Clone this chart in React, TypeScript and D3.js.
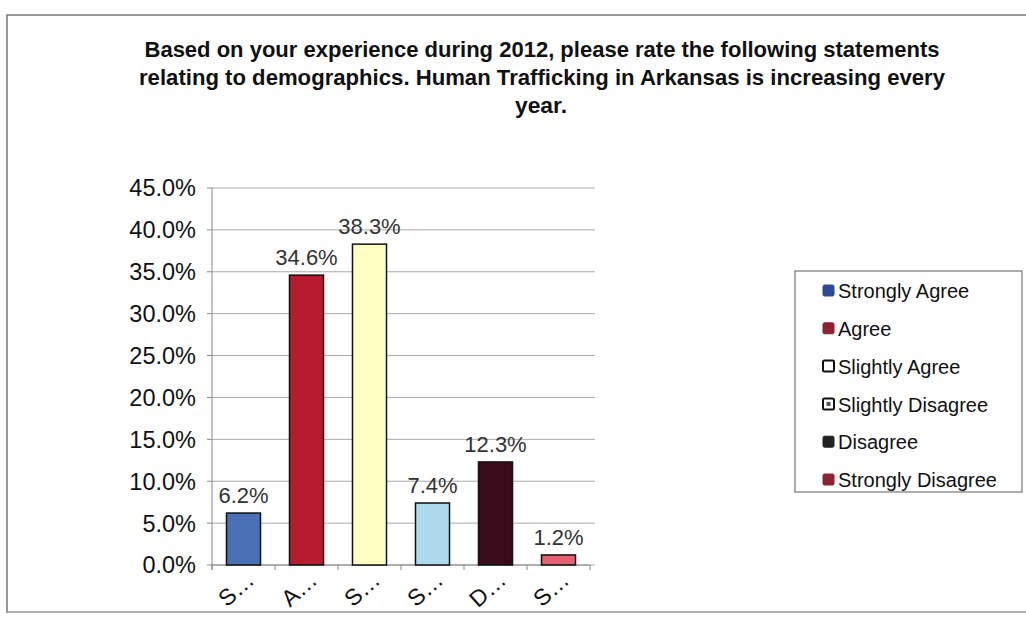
import React from "react";
import * as d3 from "d3";

const titleLines = [
  "Based on your experience during 2012, please rate the following statements",
  "relating to demographics.  Human Trafficking in Arkansas is increasing every",
  "year.",
];
const categories = ["Strongly Agree", "Agree", "Slightly Agree", "Slightly Disagree", "Disagree", "Strongly Disagree"];
const axisLabels = ["S…", "A…", "S…", "S…", "D…", "S…"];
const values = [6.2, 34.6, 38.3, 7.4, 12.3, 1.2];
const barColors = ["#4a70b6", "#b81a30", "#ffffc4", "#acdaec", "#3c0b1b", "#e3606f"];
const legendColors = ["#2f4a95", "#8c2232", "#ffffff", "#ffffff", "#222222", "#8c2232"];
const yTicks = [0, 5, 10, 15, 20, 25, 30, 35, 40, 45];

const W = 1026;
const H = 620;
const plot = { left: 212, right: 590, top: 188, bottom: 565 };

export default function App() {
  const x = d3.scaleBand<string>().domain(categories).range([plot.left, plot.right]).paddingInner(0.46).paddingOuter(0.23);
  const y = d3.scaleLinear().domain([0, 45]).range([plot.bottom, plot.top]);
  const boundaries = d3.range(categories.length + 1).map((i) => plot.left + i * ((plot.right - plot.left) / categories.length));
  const font = "'Liberation Sans', Arial, sans-serif";
  return (
    <svg width={W} height={H} style={{ position: "absolute", left: 0, top: 0, background: "#fff" }} fontFamily={font}>
      <rect x={0} y={0} width={W} height={H} fill="#fff" />
      {/* outer frame */}
      <path d={`M7,613 L7,15 L1026,15`} fill="none" stroke="#777" strokeWidth={1.5} />
      <line x1={7} y1={612} x2={1026} y2={612} stroke="#999" strokeWidth={1.5} />
      {/* title */}
      <g fontFamily="'Liberation Sans Narrow', 'Liberation Sans', Arial, sans-serif" fontWeight="bold" fontSize={22.5} fill="#111" textAnchor="middle">
        <text x={542} y={57} textLength={795} lengthAdjust="spacingAndGlyphs">{titleLines[0]}</text>
        <text x={542} y={85} textLength={806} lengthAdjust="spacingAndGlyphs">{titleLines[1]}</text>
        <text x={541} y={113} textLength={52} lengthAdjust="spacingAndGlyphs">{titleLines[2]}</text>
      </g>
      {/* gridlines */}
      {yTicks.map((t) => (
        <line key={"g" + t} x1={plot.left} x2={595} y1={y(t)} y2={y(t)} stroke="#aaaaaa" strokeWidth={1} />
      ))}
      {/* y axis */}
      <line x1={plot.left} x2={plot.left} y1={plot.top} y2={plot.bottom + 5} stroke="#888" strokeWidth={1} />
      {yTicks.map((t) => (
        <g key={"t" + t}>
          <line x1={plot.left - 5} x2={plot.left} y1={y(t)} y2={y(t)} stroke="#888" />
          <text x={196} y={y(t)} dy="0.36em" textAnchor="end" fontSize={23.5} fill="#111">
            {t.toFixed(1) + "%"}
          </text>
        </g>
      ))}
      {/* x axis */}
      <line x1={plot.left} x2={plot.right} y1={plot.bottom} y2={plot.bottom} stroke="#888" strokeWidth={1.2} />
      {boundaries.map((b, i) => (
        <line key={"b" + i} x1={b} x2={b} y1={plot.bottom} y2={plot.bottom + 5} stroke="#888" />
      ))}
      {/* bars */}
      {categories.map((c, i) => (
        <rect key={c} x={x(c)} y={y(values[i])} width={x.bandwidth()} height={y(0) - y(values[i])} fill={barColors[i]} stroke="#111" strokeWidth={1.5} />
      ))}
      {/* data labels */}
      {categories.map((c, i) => (
        <text key={"l" + c} x={(x(c) as number) + x.bandwidth() / 2} y={y(values[i]) - 10} textAnchor="middle" fontSize={22} fill="#333">
          {values[i].toFixed(1) + "%"}
        </text>
      ))}
      {/* category labels */}
      {categories.map((c, i) => {
        const cx = (x(c) as number) + x.bandwidth() / 2 + 12;
        const cy = 582;
        return (
          <text key={"c" + i} transform={`translate(${cx},${cy}) rotate(-42)`} textAnchor="end" fontSize={23} fill="#111">
            {axisLabels[i]}
          </text>
        );
      })}
      {/* legend */}
      <rect x={795} y={271} width={227} height={221} fill="#fff" stroke="#777" strokeWidth={1.2} />
      {categories.map((c, i) => {
        const ly = 291 + i * 37.8;
        const hollow = i === 2 || i === 3;
        return (
          <g key={"lg" + c}>
            <rect x={823} y={ly - 6} width={11} height={11} rx={1.5} fill={legendColors[i]} stroke={hollow ? "#111" : legendColors[i]} strokeWidth={hollow ? 2 : 1} />
            {i === 3 && <rect x={826.5} y={ly - 2.5} width={4} height={4} fill="#555" />}
            <text x={838} y={ly} dy="0.36em" fontSize={20} fill="#111">
              {c}
            </text>
          </g>
        );
      })}
    </svg>
  );
}
